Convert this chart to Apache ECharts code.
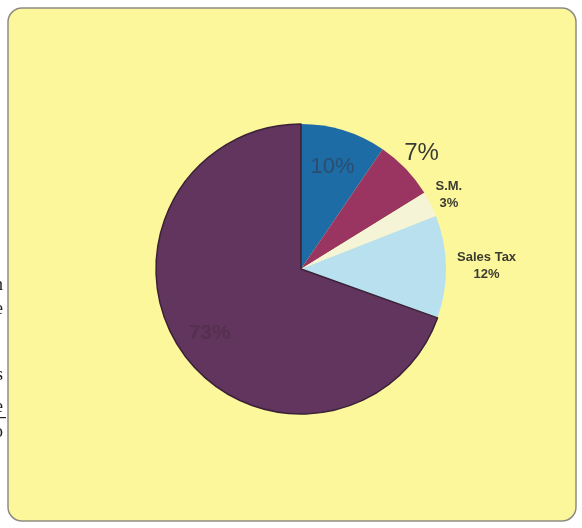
<!DOCTYPE html>
<html>
<head>
<meta charset="utf-8">
<script src="https://cdn.jsdelivr.net/npm/echarts@6/dist/echarts.min.js"></script>
<style>
  html, body { margin: 0; padding: 0; background: #ffffff; }
  #chart { width: 582px; height: 528px; }
</style>
</head>
<body>
<div id="chart"></div>
<script>
// Share of each cost component
const names  = ['Part A', 'Part B', 'S.M.', 'Sales Tax', 'Remainder'];
const values = [10, 7, 3, 12, 73];
const labels = ['10%', '7%', 'S.M.\n3%', 'Sales Tax\n12%', '73%'];

// Styling per slice
const colors     = ['#1d6ca6', '#9a3461', '#f6f4d6', '#b9e0ef', '#62355e'];
const labelRad   = [0.74, 1.15, 1.14, 1.28, 0.77];
const labelFonts = [
  { fontSize: 22, color: '#2c4d6e', fontWeight: 'normal' },
  { fontSize: 24, color: '#3b3b36', fontWeight: 'normal' },
  { fontSize: 13, color: '#3b3b30', fontWeight: 'bold', lineHeight: 17 },
  { fontSize: 13, color: '#3b3b30', fontWeight: 'bold', lineHeight: 17 },
  { fontSize: 21, color: '#56304f', fontWeight: 'bold' }
];

const CX = 301, CY = 269, R = 145;
const total = values.reduce((a, b) => a + b, 0);

const chart = echarts.init(document.getElementById('chart'), null, { renderer: 'canvas' });

chart.setOption({
  animation: false,
  graphic: [
    {
      type: 'rect',
      shape: { x: 8, y: 8, width: 568, height: 513, r: 14 },
      style: { fill: '#fdf79c', stroke: '#8d8c82', lineWidth: 1.5 },
      z: -10
    },
    // fragments of neighbouring text at the left margin
    { type: 'text', style: { x: -6, y: 276, text: 'n', font: '18px "Liberation Serif"', fill: '#222' } },
    { type: 'text', style: { x: -5, y: 300, text: 'e', font: '18px "Liberation Serif"', fill: '#222' } },
    { type: 'text', style: { x: -4, y: 366, text: 's', font: '18px "Liberation Serif"', fill: '#222' } },
    { type: 'text', style: { x: -5, y: 398, text: 'e', font: '18px "Liberation Serif"', fill: '#222' } },
    { type: 'rect', shape: { x: 0, y: 417, width: 6, height: 1.2 }, style: { fill: '#222' } },
    { type: 'text', style: { x: -6, y: 423, text: 'o', font: '18px "Liberation Serif"', fill: '#222' } }
  ],
  series: [{
    type: 'pie',
    center: [CX, CY],
    radius: [0, R],
    startAngle: 90,
    clockwise: true,
    avoidLabelOverlap: false,
    labelLine: { show: false },
    data: names.map((n, i) => ({
      name: n,
      value: values[i],
      itemStyle: i === 4
        ? { color: colors[i], borderColor: '#3a2137', borderWidth: 1.5 }
        : { color: colors[i], borderWidth: 0 },
      label: Object.assign({
        show: true,
        formatter: labels[i],
        fontFamily: '"Liberation Sans", Arial, sans-serif',
        align: 'center'
      }, labelFonts[i])
    })),
    labelLayout: function (p) {
      const i = p.dataIndex;
      let cum = 0;
      for (let k = 0; k < i; k++) cum += values[k];
      const mid = (cum + values[i] / 2) / total * 2 * Math.PI;
      const d = labelRad[i] * R;
      return {
        x: CX + d * Math.sin(mid),
        y: CY - d * Math.cos(mid),
        align: 'center',
        verticalAlign: 'middle'
      };
    }
  }]
});
</script>
</body>
</html>
